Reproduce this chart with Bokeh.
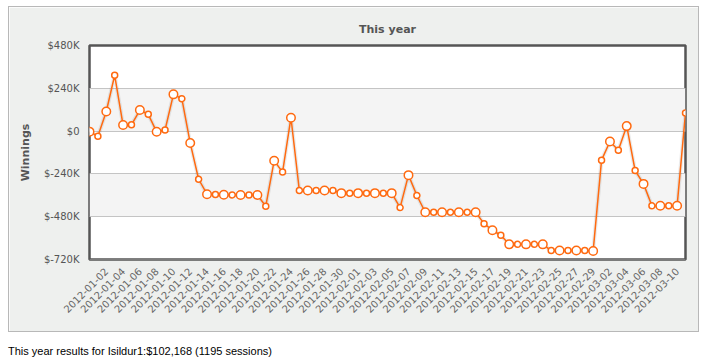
import pandas as pd
from bokeh.plotting import figure
from bokeh.models import Range1d, FixedTicker, Div
from bokeh.layouts import column
from bokeh.embed import file_html
from bokeh.resources import INLINE
from math import pi

# ---- data ----
start_date = "2011-12-31"
winnings = [
    -3000, -29000, 110000, 313000, 34000, 35000, 118000, 94000, -4000, 6000,
    206000, 182000, -67000, -270000, -354000, -355000, -357000, -358000, -358000, -358000,
    -358000, -421000, -166000, -230000, 75000, -333000, -333000, -333000, -333000, -333000,
    -348000, -348000, -348000, -348000, -348000, -348000, -348000, -429000, -247000, -361000,
    -455000, -455000, -455000, -455000, -455000, -455000, -455000, -519000, -556000, -584000,
    -635000, -635000, -635000, -635000, -635000, -670000, -670000, -670000, -670000, -670000,
    -672000, -163000, -58000, -107000, 28000, -221000, -296000, -419000, -419000, -419000,
    -419000, 102168,
]
y_ticks = [-720000, -480000, -240000, 0, 240000, 480000]
y_tick_labels = ["$-720K", "$-480K", "$-240K", "$0", "$240K", "$480K"]
title_text = "This year"
y_title = "Winnings"
footer_text = "This year results for Isildur1:$102,168 (1195 sessions)"

dates = [d.strftime("%Y-%m-%d") for d in pd.date_range(start_date, periods=len(winnings), freq="D")]
idx = list(range(len(winnings)))
x_ticks = idx[2::2][:35]
x_tick_labels = {i: dates[i] for i in x_ticks}

ORANGE = "#ff6a10"
FONT = "DejaVu Sans"

p = figure(width=691, height=326, output_backend="svg", toolbar_location=None,
           x_range=Range1d(0, len(winnings) - 1), y_range=Range1d(y_ticks[0], y_ticks[-1]),
           min_border_left=80, min_border_right=15, min_border_top=38, min_border_bottom=74)
p.background_fill_color = "white"
p.border_fill_color = "#eef0ee"
p.outline_line_color = "#555555"
p.outline_line_width = 2.5
p.styles = {"border": "1px solid #b8b8b8", "box-sizing": "border-box"}

p.title.text = title_text
p.title.align = "center"
p.title.text_font = FONT
p.title.text_font_size = "11px"
p.title.text_color = "#555555"
p.title.text_font_style = "bold"
p.title.standoff = 19

# y axis
p.yaxis.ticker = FixedTicker(ticks=y_ticks)
p.yaxis.major_label_overrides = {t: l for t, l in zip(y_ticks, y_tick_labels)}
p.yaxis.axis_line_color = None
p.yaxis.major_tick_line_color = None
p.yaxis.minor_tick_line_color = None
p.yaxis.major_label_text_font = FONT
p.yaxis.major_label_text_font_size = "10px"
p.yaxis.major_label_text_color = "#555555"
p.yaxis.major_label_standoff = 4
p.yaxis.axis_label = y_title
p.yaxis.axis_label_text_font = FONT
p.yaxis.axis_label_text_font_size = "11px"
p.yaxis.axis_label_text_font_style = "bold"
p.yaxis.axis_label_text_color = "#555555"
p.yaxis.axis_label_standoff = 9

# x axis
p.xaxis.ticker = FixedTicker(ticks=x_ticks)
p.xaxis.major_label_overrides = x_tick_labels
p.xaxis.major_label_orientation = pi / 4
p.xaxis.axis_line_color = None
p.xaxis.major_tick_line_color = None
p.xaxis.minor_tick_line_color = None
p.xaxis.major_label_text_font = FONT
p.xaxis.major_label_text_font_size = "10px"
p.xaxis.major_label_text_color = "#666666"
p.xaxis.major_label_standoff = 4

# alternating bands: shaded [0,240K] and [-480K,-240K]
band_step = y_ticks[1] - y_ticks[0]
p.xgrid.grid_line_color = None
p.ygrid.ticker = FixedTicker(ticks=[y_ticks[0] - band_step] + y_ticks)
p.ygrid.grid_line_color = "#c4c4c4"
p.ygrid.grid_line_width = 1
p.ygrid.band_fill_color = "#f4f4f4"
p.ygrid.band_fill_alpha = 1.0

p.line(idx, winnings, line_color="#000000", line_alpha=0.08, line_width=4)
p.line(idx, winnings, line_color=ORANGE, line_width=1.5)
p.scatter(idx[0::2], winnings[0::2], size=8.5, fill_color="white", line_color=ORANGE, line_width=1.5)
p.scatter(idx[1::2], winnings[1::2], size=6, fill_color="white", line_color=ORANGE, line_width=1.5)

footer = Div(text=footer_text, width=691, margin=(12, 0, 0, 0),
             styles={"font-family": "'Liberation Sans', Arial, sans-serif", "font-size": "11px", "color": "#000"})

layout = column(p, footer, spacing=0, margin=(6, 0, 0, 8))
open("out.html", "w").write(file_html(layout, INLINE))
